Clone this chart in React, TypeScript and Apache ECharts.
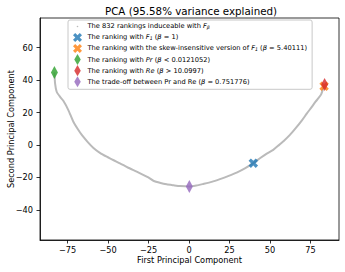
import React, { useEffect, useRef } from 'react';
import * as echarts from 'echarts';

// Gray curve of the 832 rankings (x = first PC, y = second PC)
const curveX = [-83.1, -82.7, -81.7, -79.5, -77.6, -74.5, -71.4, -68.5, -66.2, -62.5, -59, -55, -50.8, -46.5, -42.6, -37.5, -32.3, -28, -25.1, -22, -17.5, -13.8, -9.5, -5.6, 0, 4.5, 8.8, 14, 19.1, 24.5, 29.4, 34.5, 39.7, 44, 48, 52, 55, 58.5, 62.3, 66, 69.6, 72.8, 75.7, 78, 79.8, 81.5, 82.5, 83.5];
const curveY = [44.7, 38, 32.8, 29.5, 27.2, 21.5, 14.3, 9.5, 6.2, 1.8, -1.8, -4.8, -7.2, -9.4, -11.3, -14, -16.4, -18.5, -20, -22, -23.4, -24.2, -24.8, -25.3, -25.6, -25, -24, -22.7, -21, -19, -17, -14.4, -11.2, -8, -5.3, -3, -0.5, 2.5, 6.2, 10.5, 15, 19.5, 23.3, 26.5, 28.7, 31, 33.8, 36.5];

const seriesNames = [
  'The 832 rankings induceable with Fβ',
  'The ranking with F1 (β = 1)',
  'The ranking with the skew-insensitive version of F1 (β = 5.40111)',
  'The ranking with Pr (β < 0.0121052)',
  'The ranking with Re (β > 10.0997)',
  'The trade-off between Pr and Re (β = 0.751776)',
];
const legendRich = [
  'The 832 rankings induceable with {i|F}{sub|β}',
  'The ranking with {i|F}{sub|1} ({i|β} = 1)',
  'The ranking with the skew-insensitive version of {i|F}{sub|1} ({i|β} = 5.40111)',
  'The ranking with {i|Pr} ({i|β} < 0.0121052)',
  'The ranking with {i|Re} ({i|β} > 10.0997)',
  'The trade-off between Pr and Re ({i|β} = 0.751776)',
];
const markerX = [39.7, 83.4, -83.1, 83.7, 0.2];
const markerY = [-11.2, 36.2, 44.7, 37.3, -25.6];
const colors = ['#bababa', '#1f77b4', '#ff7f0e', '#2ca02c', '#d62728', '#9467bd'];
const xTicks = [-75, -50, -25, 0, 25, 50, 75];
const yTicks = [-40, -20, 0, 20, 40, 60];

const X_SYMBOL = 'path://M0 2.2L2.2 0L4.5 2.3L6.8 0L9 2.2L6.7 4.5L9 6.8L6.8 9L4.5 6.7L2.2 9L0 6.8L2.3 4.5Z';
const D_SYMBOL = 'path://M5 0L10 10L5 20L0 10Z';
const ICON_DOT = 'path://M0 0M10 11M4.2 5.5A0.8 0.8 0 1 1 5.8 5.5A0.8 0.8 0 1 1 4.2 5.5Z';
const ICON_X = 'path://M0 0M10 11M0.5 3.2L2.7 1L5 3.3L7.3 1L9.5 3.2L7.2 5.5L9.5 7.8L7.3 10L5 7.7L2.7 10L0.5 7.8L2.8 5.5Z';
const ICON_D = 'path://M0 0M10 11M5 -0.3L8.4 5.5L5 11.3L1.6 5.5Z';
const icons = [ICON_DOT, ICON_X, ICON_X, ICON_D, ICON_D, ICON_D];
const symbols = [X_SYMBOL, X_SYMBOL, D_SYMBOL, D_SYMBOL, D_SYMBOL];

const FONT = 'DejaVu Sans';
const minus = (v: number) => String(v).replace('-', '\u2212');

export default function App() {
  const ref = useRef<HTMLDivElement>(null);
  useEffect(() => {
    document.body.style.margin = '0';
    const chart = echarts.init(ref.current!, null, { renderer: 'svg' });
    const markerSeries = markerX.map((x, i) => ({
      name: seriesNames[i + 1],
      type: 'scatter',
      data: [[x, markerY[i]]],
      symbol: symbols[i],
      symbolSize: i < 2 ? 9.5 : [7, 13],
      itemStyle: { color: colors[i + 1] },
      z: 3 + i,
    }));
    chart.setOption({
      animation: false,
      textStyle: { fontFamily: FONT },
      grid: { left: 40, right: 6, top: 18, bottom: 32, show: true, borderColor: '#000', borderWidth: 0.8, outerBoundsMode: 'none', containLabel: false },
      graphic: [
        {
          type: 'text', x: 191, y: 10.5,
          style: { text: 'PCA (95.58% variance explained)', fontFamily: FONT, fontSize: 10.3, fill: '#000', textAlign: 'center', textVerticalAlign: 'middle' },
        },
      ],
      xAxis: {
        type: 'value', min: -92, max: 92.6,
        name: 'First Principal Component', nameLocation: 'middle', nameGap: 16, nameMoveOverlap: false,
        nameTextStyle: { fontFamily: FONT, fontSize: 8.2, color: '#000' },
        axisLine: { onZero: false, lineStyle: { color: '#000', width: 0.8 } },
        axisTick: { customValues: xTicks, length: 3.5, lineStyle: { color: '#000', width: 0.8 } },
        axisLabel: { customValues: xTicks, formatter: minus, fontSize: 8.2, color: '#000', margin: 6, fontFamily: FONT },
        splitLine: { show: false },
      },
      yAxis: {
        type: 'value', min: -58.5, max: 78.2,
        name: 'Second Principal Component', nameLocation: 'middle', nameGap: 25, nameMoveOverlap: false,
        nameTextStyle: { fontFamily: FONT, fontSize: 8.2, color: '#000' },
        axisLine: { onZero: false, lineStyle: { color: '#000', width: 0.8 } },
        axisTick: { customValues: yTicks, length: 3.5, lineStyle: { color: '#000', width: 0.8 } },
        axisLabel: { customValues: yTicks, formatter: minus, fontSize: 8.2, color: '#000', margin: 7, fontFamily: FONT },
        splitLine: { show: false },
      },
      legend: {
        orient: 'vertical', left: 68, top: 20,
        padding: [1, 5, 2, 4.5],
        itemWidth: 10, itemHeight: 11.1, itemGap: 0,
        borderColor: '#c8c8c8', borderWidth: 1, borderRadius: 2,
        backgroundColor: 'rgba(255,255,255,0.8)',
        data: seriesNames.map((n, i) => ({ name: n, icon: icons[i], itemStyle: { color: colors[i] } })),
        formatter: (name: string) => legendRich[seriesNames.indexOf(name)],
        textStyle: {
          fontFamily: FONT, fontSize: 6.7, color: '#000',
          rich: {
            i: { fontFamily: FONT, fontSize: 6.7, fontStyle: 'italic', color: '#000' },
            sub: { fontFamily: FONT, fontSize: 4.7, fontStyle: 'italic', color: '#000', padding: [3, 0, 0, 0] },
          },
        },
      },
      series: [
        {
          name: seriesNames[0],
          type: 'line',
          data: curveX.map((x, i) => [x, curveY[i]]),
          showSymbol: false,
          smooth: 0.2,
          lineStyle: { color: colors[0], width: 2 },
          itemStyle: { color: colors[0] },
          z: 2,
        },
        ...markerSeries,
      ],
    });
    return () => chart.dispose();
  }, []);
  return <div ref={ref} style={{ width: 345, height: 272 }} />;
}
